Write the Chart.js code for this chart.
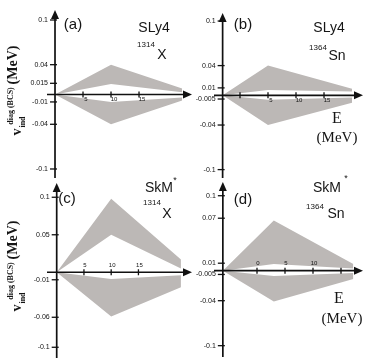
<!DOCTYPE html>
<html>
<head>
<meta charset="utf-8">
<script src="https://cdn.jsdelivr.net/npm/chart.js@4.4.0/dist/chart.umd.min.js"></script>
<style>
html, body { margin: 0; padding: 0; background: #fff; }
#wrap { position: relative; width: 374px; height: 362px; overflow: hidden; }
#wrap canvas { position: absolute; left: 0; top: 0; }
.t { position: absolute; transform: translate(-50%, -50%); white-space: nowrap; line-height: 1; color: #151515; }
.sans { font-family: "Liberation Sans", Arial, sans-serif; }
.serif { font-family: "Liberation Serif", "Times New Roman", serif; }
.rot { transform: translate(-50%, -50%) rotate(-90deg); }
.b { font-weight: bold; }
</style>
</head>
<body>
<div id="wrap">
  <canvas id="panelA" width="374" height="362"></canvas>
  <canvas id="panelB" width="374" height="362"></canvas>
  <canvas id="panelC" width="374" height="362"></canvas>
  <canvas id="panelD" width="374" height="362"></canvas>

  <!-- panel labels and annotations -->
  <div class="t sans" style="left:73px;top:23px;font-size:15px">(a)</div>
  <div class="t sans" style="left:154px;top:27px;font-size:14px">SLy4</div>
  <div class="t sans" style="left:146px;top:45px;font-size:8px">1314</div>
  <div class="t sans" style="left:162px;top:54px;font-size:14px">X</div>

  <div class="t sans" style="left:243px;top:23px;font-size:15px">(b)</div>
  <div class="t sans" style="left:329px;top:27px;font-size:14px">SLy4</div>
  <div class="t sans" style="left:318px;top:48px;font-size:8px">1364</div>
  <div class="t sans" style="left:337px;top:55px;font-size:14px">Sn</div>

  <div class="t sans" style="left:67px;top:197px;font-size:15px">(c)</div>
  <div class="t sans" style="left:159px;top:187px;font-size:14px">SkM</div>
  <div class="t sans" style="left:175px;top:180px;font-size:9px">*</div>
  <div class="t sans" style="left:152px;top:203px;font-size:8px">1314</div>
  <div class="t sans" style="left:167px;top:213px;font-size:14px">X</div>

  <div class="t sans" style="left:243px;top:198px;font-size:15px">(d)</div>
  <div class="t sans" style="left:327px;top:187px;font-size:14px">SkM</div>
  <div class="t sans" style="left:346px;top:178px;font-size:9px">*</div>
  <div class="t sans" style="left:315px;top:207px;font-size:8px">1364</div>
  <div class="t sans" style="left:336px;top:213px;font-size:14px">Sn</div>

  <!-- y titles -->
  <div class="t serif b rot" style="left:13px;top:65px;font-size:14px">(MeV)</div>
  <div class="t serif b rot" style="left:17px;top:132px;font-size:14px">v</div>
  <div class="t serif b rot" style="left:23px;top:122px;font-size:8px">ind</div>
  <div class="t serif b rot" style="left:11px;top:106px;font-size:8px">diag (BCS)</div>

  <div class="t serif b rot" style="left:13px;top:240px;font-size:14px">(MeV)</div>
  <div class="t serif b rot" style="left:17px;top:308px;font-size:14px">v</div>
  <div class="t serif b rot" style="left:23px;top:298px;font-size:8px">ind</div>
  <div class="t serif b rot" style="left:11px;top:281px;font-size:8px">diag (BCS)</div>

  <!-- x titles -->
  <div class="t serif" style="left:337px;top:118px;font-size:16px">E</div>
  <div class="t serif" style="left:337px;top:137px;font-size:15px">(MeV)</div>
  <div class="t serif" style="left:339px;top:298px;font-size:16px">E</div>
  <div class="t serif" style="left:342px;top:318px;font-size:15px">(MeV)</div>
</div>

<script>
// (a) SLy4, 1314X
const energyA = [0, 10, 22.7]
const upperOuterA = [0, 0.040, 0.008]
const upperInnerA = [0, 0.014, 0.003]
const lowerInnerA = [0, -0.010, -0.004]
const lowerOuterA = [0, -0.040, -0.008]
const yTicksA = [0.1, 0.04, 0.015, -0.01, -0.04, -0.1]
const xTicksA = [5, 10, 15]
const xLabelsA = ['5', '10', '15']

// (b) SLy4, 1364Sn
const energyB = [-3.1, 5, 20]
const upperOuterB = [0, 0.040, 0.009]
const upperInnerB = [0, 0.007, 0.005]
const lowerInnerB = [0, -0.006, -0.003]
const lowerOuterB = [0, -0.040, -0.010]
const yTicksB = [0.1, 0.04, 0.01, -0.005, -0.04, -0.1]
const yLabelsB = ['0.1', '0.04', '0.01', '-0.005', '-0.04', '-0.1']
const xTicksB = [0, 5, 10, 15]
const xLabelsB = ['', '5', '10', '15']

// (c) SkM*, 1314X
const energyC = [0, 10, 22.8]
const upperOuterC = [0, 0.098, 0.017]
const upperInnerC = [0, 0.050, 0.005]
const lowerInnerC = [0, -0.009, -0.004]
const lowerOuterC = [0, -0.059, -0.020]
const yTicksC = [0.1, 0.05, -0.01, -0.06, -0.1]
const xTicksC = [5, 10, 15]
const xLabelsC = ['5', '10', '15']

// (d) SkM*, 1364Sn
const energyD = [-6.1, 3, 17.2]
const upperOuterD = [0, 0.067, 0.009]
const upperInnerD = [0, 0.009, 0.003]
const lowerInnerD = [0, -0.007, -0.003]
const lowerOuterD = [0, -0.041, -0.011]
const yTicksD = [0.1, 0.07, 0.01, -0.005, -0.04, -0.1]
const yLabelsD = ['0.1', '0.07', '0.01', '-0.005', '-0.04', '-0.1']
const xTicksD = [0, 5, 10, 15]
const xLabelsD = ['0', '5', '10', '']

const bandColor = '#bcb8b6'

const axesPlugin = {
  id: 'sketchAxes',
  afterDatasetsDraw(chart, args, opts) {
    const ctx = chart.ctx
    const a = chart.chartArea
    const xs = chart.scales.x
    const ys = chart.scales.y
    const x0 = xs.getPixelForValue(opts.yAt)
    const y0 = ys.getPixelForValue(0)
    ctx.save()
    ctx.strokeStyle = '#111'
    ctx.fillStyle = '#111'
    ctx.lineWidth = 1.7
    // x axis + arrow
    ctx.beginPath()
    ctx.moveTo(a.left, y0)
    ctx.lineTo(a.right - 6, y0)
    ctx.stroke()
    ctx.beginPath()
    ctx.moveTo(a.right, y0)
    ctx.lineTo(a.right - 9, y0 - 4)
    ctx.lineTo(a.right - 9, y0 + 4)
    ctx.closePath()
    ctx.fill()
    // y axis + arrow
    ctx.beginPath()
    ctx.moveTo(x0, a.bottom)
    ctx.lineTo(x0, a.top + 6)
    ctx.stroke()
    ctx.beginPath()
    ctx.moveTo(x0, a.top)
    ctx.lineTo(x0 - 4, a.top + 9)
    ctx.lineTo(x0 + 4, a.top + 9)
    ctx.closePath()
    ctx.fill()

    ctx.lineWidth = 1.3
    ctx.font = '7px "Liberation Sans", Arial, sans-serif'
    ctx.textAlign = 'right'
    ctx.textBaseline = 'middle'
    opts.yTicks.forEach((v, i) => {
      const py = ys.getPixelForValue(v)
      ctx.beginPath()
      ctx.moveTo(x0 - 5, py)
      ctx.lineTo(x0 + 2, py)
      ctx.stroke()
      const lab = opts.yLabels ? opts.yLabels[i] : String(v)
      ctx.fillText(lab, x0 - 7, py)
    })

    ctx.font = '6px "Liberation Sans", Arial, sans-serif'
    ctx.textAlign = 'center'
    opts.xTicks.forEach((v, i) => {
      const px = xs.getPixelForValue(v)
      ctx.beginPath()
      ctx.moveTo(px, y0 - 3)
      ctx.lineTo(px, y0 + 3)
      ctx.stroke()
      if (opts.labelsAbove) {
        ctx.fillText(opts.xLabels[i], px + 1, y0 - 7)
      } else {
        ctx.fillText(opts.xLabels[i], px + 3, y0 + 5)
      }
    })
    ctx.restore()
  }
}

function pts(xv, yv) {
  return xv.map((x, i) => ({ x: x, y: yv[i] }))
}

function band(data, fill) {
  return {
    data: data,
    fill: fill,
    backgroundColor: bandColor,
    borderColor: 'transparent',
    borderWidth: 0,
    pointRadius: 0,
    tension: 0
  }
}

function renderPanel(canvasId, energy, upOut, upIn, lowIn, lowOut, pad, xr, yr, axes) {
  const canvas = document.getElementById(canvasId)
  new Chart(canvas.getContext('2d'), {
    type: 'line',
    data: {
      datasets: [
        band(pts(energy, upOut), false),
        band(pts(energy, upIn), '-1'),
        band(pts(energy, lowIn), false),
        band(pts(energy, lowOut), '-1')
      ]
    },
    options: {
      responsive: false,
      animation: false,
      layout: { padding: pad },
      plugins: {
        legend: { display: false },
        tooltip: { enabled: false },
        sketchAxes: axes
      },
      scales: {
        x: { type: 'linear', display: false, min: xr[0], max: xr[1] },
        y: { type: 'linear', display: false, min: yr[0], max: yr[1] }
      }
    },
    plugins: [axesPlugin]
  })
}

renderPanel('panelA', energyA, upperOuterA, upperInnerA, lowerInnerA, lowerOuterA,
  { left: 47, right: 182, top: 10, bottom: 184 }, [-1.43, 24.46], [-0.1121, 0.1134],
  { yAt: 0, yTicks: yTicksA, xTicks: xTicksA, xLabels: xLabelsA, labelsAbove: false })

renderPanel('panelB', energyB, upperOuterB, upperInnerB, lowerInnerB, lowerOuterB,
  { left: 214, right: 11, top: 13, bottom: 184 }, [-4.64, 21.96], [-0.1113, 0.1108],
  { yAt: -3.1, yTicks: yTicksB, yLabels: yLabelsB, xTicks: xTicksB, xLabels: xLabelsB, labelsAbove: false })

renderPanel('panelC', energyC, upperOuterC, upperInnerC, lowerInnerC, lowerOuterC,
  { left: 47, right: 182, top: 183, bottom: 4 }, [-1.78, 24.83], [-0.1143, 0.119],
  { yAt: 0, yTicks: yTicksC, xTicks: xTicksC, xLabels: xLabelsC, labelsAbove: true })

renderPanel('panelD', energyD, upperOuterD, upperInnerD, lowerInnerD, lowerOuterD,
  { left: 214, right: 11, top: 182, bottom: 5 }, [-7.68, 18.93], [-0.1151, 0.1183],
  { yAt: -6.1, yTicks: yTicksD, yLabels: yLabelsD, xTicks: xTicksD, xLabels: xLabelsD, labelsAbove: true })
</script>
</body>
</html>
